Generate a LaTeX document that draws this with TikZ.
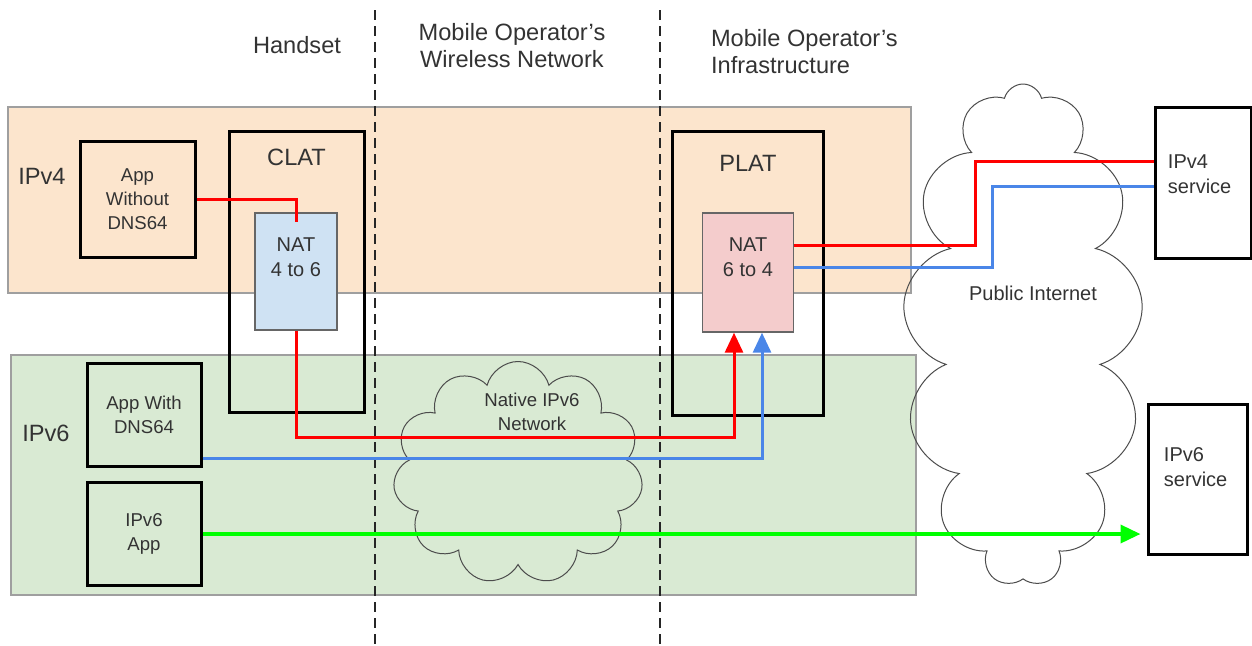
\documentclass[tikz,border=0pt]{standalone}
\usepackage{fontspec}
\setmainfont{Liberation Sans}
\usetikzlibrary{shapes.symbols, arrows.meta, positioning}
\definecolor{v4fill}{HTML}{FCE5CD}
\definecolor{v6fill}{HTML}{D9EAD3}
\definecolor{natblue}{HTML}{CFE2F3}
\definecolor{natpink}{HTML}{F4CCCC}
\definecolor{linered}{HTML}{FF0000}
\definecolor{lineblue}{HTML}{4A86E8}
\definecolor{linegreen}{HTML}{00FF00}
\definecolor{txtgray}{HTML}{333333}
\tikzstyle{band} = [rectangle, draw=gray!75, line width=0.7pt, inner sep=0pt]
\tikzstyle{hostbox} = [rectangle, draw=black, line width=1.5pt, inner sep=0pt]
\tikzstyle{appbox} = [rectangle, draw=black, line width=1.5pt, inner sep=0pt, align=center, font=\fontsize{9.3}{12}\selectfont, text=txtgray]
\tikzstyle{natbox} = [rectangle, draw=gray!80!black, line width=0.7pt, inner sep=0pt]
\tikzstyle{biglbl} = [align=center, font=\fontsize{11.8}{13.5}\selectfont, text=txtgray]
\tikzstyle{midlbl} = [align=center, font=\fontsize{10}{12.5}\selectfont, text=txtgray]
\tikzstyle{smalllbl} = [align=center, font=\fontsize{9.3}{12}\selectfont, text=txtgray]
\tikzstyle{netcloud} = [cloud, draw=gray!60!black, line width=0.5pt, cloud ignores aspect, inner sep=0pt]
\tikzstyle{divider} = [line width=1pt, dash pattern=on 5pt off 3pt, draw=black!85]
\tikzstyle{v4line} = [draw=linered, line width=1.5pt]
\tikzstyle{v6line} = [draw=lineblue, line width=1.5pt]
\tikzstyle{nativeline} = [draw=linegreen, line width=1.8pt]
\tikzstyle{arrow} = [-{Triangle[length=10pt, width=9pt]}]

\begin{document}
\begin{tikzpicture}[x=0.5pt, y=-0.5pt]
    \useasboundingbox (0,0) rectangle (1252,645);
    \node (v4band) [band, fill=v4fill, minimum width=451.5pt, minimum height=93pt] at (459.5,200) {};
    \node (v6band) [band, fill=v6fill, minimum width=452.5pt, minimum height=120pt] at (463.5,475) {};
    \node (inet) [netcloud, cloud puffs=13, minimum width=120pt, minimum height=251pt] at (1023,335) {};
    \node (native) [netcloud, cloud puffs=11, minimum width=125pt, minimum height=111.5pt] at (518,473) {};
    \node (inettxt) [midlbl] at (1033,293) {Public Internet};
    \node (nativetxt) [smalllbl] at (532,412) {Native IPv6\\Network};

    \coordinate (cut1top) at (375,10);
    \coordinate (cut1bot) at (375,645);
    \coordinate (cut2top) at (660,10);
    \coordinate (cut2bot) at (660,645);
    \draw [divider] (cut1top) -- (cut1bot);
    \draw [divider] (cut2top) -- (cut2bot);

    \node (handset) [biglbl] at (297,45) {Handset};
    \node (wireless) [biglbl] at (512,46) {Mobile Operator’s\\Wireless Network};
    \node (infra) [biglbl, align=left, anchor=west] at (704,52) {Mobile Operator’s\\Infrastructure};
    \node (v4txt) [biglbl] at (42,176) {IPv4};
    \node (v6txt) [biglbl] at (46,433) {IPv6};

    \node (appno) [appbox, minimum width=57.5pt, minimum height=58pt] at (137.5,199.5) {App\\Without\\DNS64};
    \node (appwith) [appbox, minimum width=57pt, minimum height=51.5pt] at (144,415) {App With\\DNS64};
    \node (v6app) [appbox, minimum width=57pt, minimum height=51.5pt] at (144,534) {IPv6\\App};

    \node (clat) [hostbox, minimum width=67.5pt, minimum height=140.5pt] at (296.5,271.5) {};
    \node (clattxt) [biglbl] at ([yshift=-14pt]clat.north) {CLAT};
    \node (nat46) [natbox, fill=natblue, minimum width=41pt, minimum height=58.5pt] at (296,271.5) {};
    \node (nat46txt) [midlbl] at ([yshift=-22.5pt]nat46.north) {NAT\\4 to 6};

    \node (plat) [hostbox, minimum width=75.5pt, minimum height=142pt] at (748,273.5) {};
    \node (plattxt) [biglbl] at ([yshift=-16.5pt]plat.north) {PLAT};
    \node (nat64) [natbox, fill=natpink, minimum width=45.5pt, minimum height=59.5pt] at (748,272.5) {};
    \node (nat64txt) [midlbl] at ([yshift=-22.5pt]nat64.north) {NAT\\6 to 4};

    \node (v4svc) [hostbox, minimum width=48pt, minimum height=75.5pt] at (1203,182.5) {};
    \node (v4svctxt) [midlbl, align=left, anchor=west] at ([xshift=3.7pt, yshift=4.25pt]v4svc.west) {IPv4\\service};
    \node (v6svc) [hostbox, minimum width=49.5pt, minimum height=75pt] at (1197.5,479) {};
    \node (v6svctxt) [midlbl, align=left, anchor=west] at ([xshift=5.2pt, yshift=6pt]v6svc.west) {IPv6\\service};

    \draw [v4line] (appno.east) -| ([yshift=-5pt]nat46.north);
    \draw [v4line, arrow] (nat46.south) |- ([xshift=-7pt, yshift=-52.5pt]nat64.south) -- ([xshift=-7pt]nat64.south);
    \draw [v6line, arrow] ([yshift=-21.5pt]appwith.east) -| ([xshift=7pt]nat64.south);
    \draw [v4line] ([yshift=13.75pt]nat64.east) -- ++(90.5pt,0) |- ([yshift=10.75pt]v4svc.west);
    \draw [v6line] ([yshift=2.75pt]nat64.east) -- ++(99pt,0) |- ([yshift=-1.75pt]v4svc.west);
    \draw [nativeline, arrow, shorten >=3pt] (v6app.east) -- (v6app.east -| v6svc.west);
\end{tikzpicture}
\end{document}
